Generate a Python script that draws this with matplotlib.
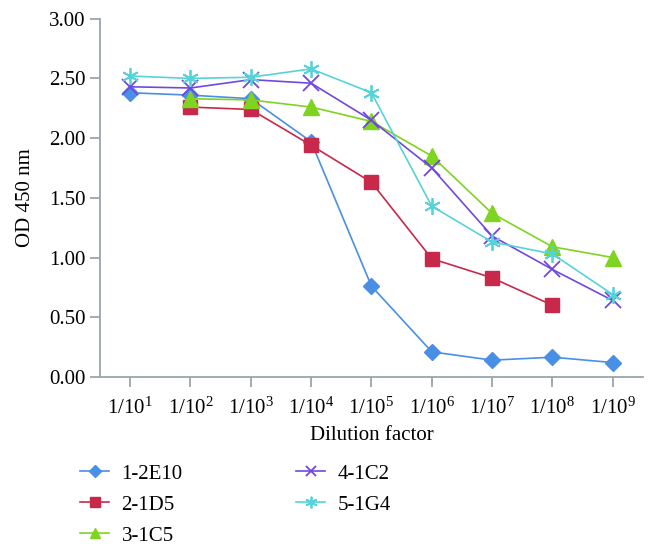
import numpy as np
import matplotlib.pyplot as plt

plt.rcParams['font.family'] = ['Liberation Serif', 'DejaVu Serif']

# ── Data ──────────────────────────────────────────────────────
dilutions = [r"$\mathregular{1/10^{%d}}$" % k for k in range(1, 10)]
e10 = [2.38, 2.36, 2.33, 1.97, 0.76, 0.21, 0.14, 0.165, 0.12]
d5 = [np.nan, 2.26, 2.24, 1.94, 1.63, 0.99, 0.83, 0.60, np.nan]
c5 = [np.nan, 2.33, 2.32, 2.26, 2.14, 1.85, 1.37, 1.09, 1.00]
c2 = [2.43, 2.42, 2.49, 2.46, 2.15, 1.75, 1.18, 0.90, 0.64]
g4 = [2.52, 2.50, 2.51, 2.58, 2.38, 1.43, 1.13, 1.03, 0.69]

x = np.arange(len(dilutions))

# ── Chart ─────────────────────────────────────────────────────
fig = plt.figure(figsize=(6.58, 5.51), dpi=100)
ax = fig.add_axes([0.152, 0.316, 0.825, 0.65])

ax.plot(x, e10, color="#4a8fe6", marker="D", ms=8.5, lw=1.2, label="1-2E10")
ax.plot(x, d5, color="#c8284a", marker="s", ms=10, lw=1.2, label="2-1D5")
ax.plot(x, c5, color="#7fd321", marker="^", ms=11, lw=1.2, label="3-1C5")
ax.plot(x, c2, color="#7048e0", marker="x", ms=11, mew=1.3, lw=1.2, label="4-1C2")
ax.plot(x, g4, color="#55d3d8", marker=(6, 2, 0), ms=12, mew=1.3, lw=1.2, label="5-1G4")

ax.set_xlim(-0.5, 8.5)
ax.set_ylim(0, 3)
ax.set_xticks(x)
ax.set_xticklabels(dilutions)
ax.set_yticks(np.arange(0, 3.01, 0.5))
ax.set_yticklabels(["%.2f" % v for v in np.arange(0, 3.01, 0.5)])

axis_col = "#9aa6aa"
for s in ["top", "right"]:
    ax.spines[s].set_visible(False)
for s in ["left", "bottom"]:
    ax.spines[s].set_color(axis_col)
    ax.spines[s].set_linewidth(1.3)
ax.tick_params(colors=axis_col, labelcolor="black", labelsize=15, length=7, width=1.3)
ax.tick_params(axis="x", pad=8)

ax.set_xlabel("Dilution factor", fontsize=15, labelpad=5)
ax.set_ylabel("OD 450 nm", fontsize=15, labelpad=10)

fig.legend(loc="upper left", bbox_to_anchor=(0.093, 0.192), ncol=2, frameon=False,
           fontsize=15, handlelength=1.4, columnspacing=5.45, markerscale=0.7,
           labelspacing=0.55, handletextpad=0.6)

plt.savefig("out.png")
